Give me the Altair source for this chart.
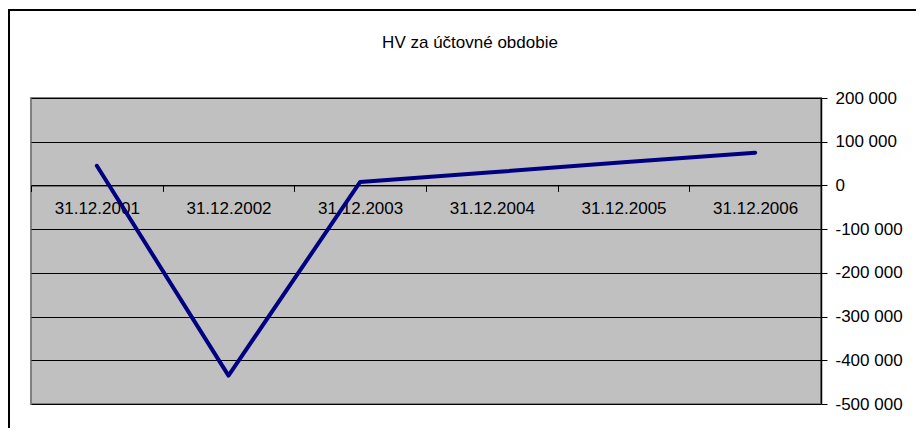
import altair as alt
import pandas as pd

title_text = "HV za účtovné obdobie"
dates = ["31.12.2001", "31.12.2002", "31.12.2003", "31.12.2004", "31.12.2005", "31.12.2006"]
values = [45000, -435000, 8000, 30000, 53000, 75000]
y_ticks = [-500000, -400000, -300000, -200000, -100000, 0, 100000, 200000]

df = pd.DataFrame({"date": dates, "value": values})

W, H = 790, 306
y_min, y_max = -500000, 200000
zero_offset = -(H * (0 - y_min) / (y_max - y_min))

FONT = "Liberation Sans"

one = pd.DataFrame({"t": [title_text]})

frame = alt.Chart(one).mark_rect(
    filled=False, stroke="black", strokeWidth=2, clip=False
).encode(
    x=alt.value(-22), x2=alt.value(1100), y=alt.value(-88), y2=alt.value(600)
)

title = alt.Chart(one).mark_text(
    font=FONT, fontSize=17, color="black", align="center", baseline="alphabetic"
).encode(
    text="t:N", x=alt.value(439), y=alt.value(-50)
)

line = alt.Chart(df).mark_line(
    color="#000080", strokeWidth=4, strokeCap="round", strokeJoin="round"
).encode(
    x=alt.X(
        "date:N",
        sort=dates,
        bandPosition=0.5,
        scale=alt.Scale(type="band", paddingInner=0, paddingOuter=0, domain=dates),
        axis=alt.Axis(
            orient="bottom", offset=zero_offset, labelAngle=0, tickBand="extent",
            domainColor="black", domainWidth=1, tickColor="black", tickSize=6,
            grid=False, title=None, labelFont=FONT, labelFontSize=17,
            labelColor="black", labelPadding=9,
        ),
    ),
    y=alt.Y(
        "value:Q",
        scale=alt.Scale(domain=[y_min, y_max], nice=False, zero=False),
        axis=alt.Axis(
            orient="right", values=y_ticks, format=",d", grid=True,
            gridColor="black", gridWidth=1, domainColor="black", domainWidth=1.5,
            tickColor="black", tickSize=6, title=None, labelFont=FONT,
            labelFontSize=17, labelColor="black", labelPadding=8,
        ),
    ),
)

chart = alt.layer(frame, title, line).properties(
    width=W,
    height=H,
    padding={"left": 23, "top": 90, "right": 95, "bottom": 24},
    autosize=alt.AutoSizeParams(type="none"),
).configure(
    background="white",
    locale={"number": {"decimal": ",", "thousands": " ", "grouping": [3],
                       "currency": ["", ""], "minus": "-"}},
).configure_view(
    fill="#C0C0C0", stroke="#808080", strokeWidth=2
)

chart.save("out.html", embed_options={"renderer": "svg", "actions": False})
